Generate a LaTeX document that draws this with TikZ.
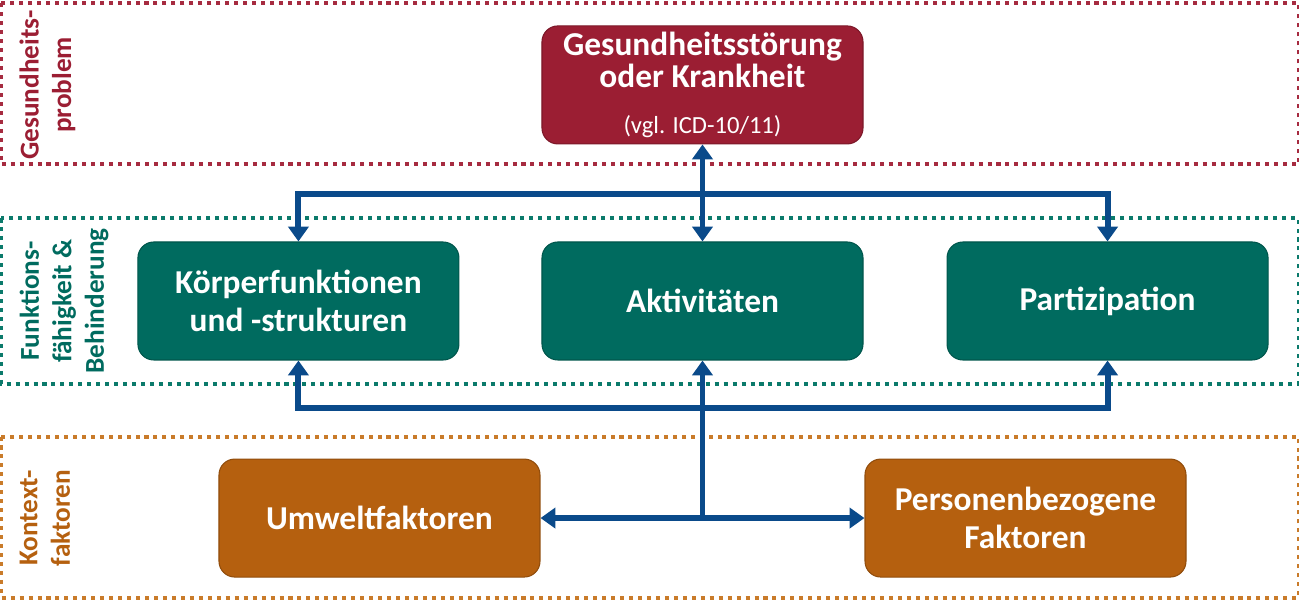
\documentclass[tikz,border=0pt]{standalone}
\usepackage{fontspec}
\setmainfont{Carlito}
\usepackage{tikz}
\usetikzlibrary{arrows.meta,positioning,calc}
\usepackage{xcolor}
\definecolor{icfred}{HTML}{9B1E33}
\definecolor{icfredline}{HTML}{A62B40}
\definecolor{icfgreen}{HTML}{006B5F}
\definecolor{icfgreenline}{HTML}{0B7A6B}
\definecolor{icforange}{HTML}{B5600F}
\definecolor{icforangeline}{HTML}{C97B2A}
\definecolor{icfblue}{HTML}{0A4A8A}

\begin{document}
\begin{tikzpicture}[
  box/.style={draw, rectangle, rounded corners=9pt,
              minimum width=6.42cm, minimum height=2.36cm,
              text=white, align=center, line width=0.6pt,
              font=\fontsize{19}{21.5}\selectfont\bfseries},
  frame/.style={line width=2.3pt, dash pattern=on 2.3pt off 2.8pt},
  sidelabel/.style={rotate=90, anchor=north, align=center,
                    font=\fontsize{15.5}{18.5}\selectfont\bfseries},
  arr/.style={-{Triangle[length=8.5pt,width=11.5pt]}, icfblue,
              line width=3.4pt},
  dblarr/.style={{Triangle[length=8.5pt,width=11.5pt]}-{Triangle[length=8.5pt,width=11.5pt]},
                 icfblue, line width=3.4pt},
]
  \useasboundingbox (-14.05,-6.0) rectangle (11.93,6.02);

  %% Middle row: functioning and disability
  \node[box, fill=icfgreen, draw=icfgreen!80!black] (akt) at (0,0) {Aktivitäten};
  \node[box, fill=icfgreen, draw=icfgreen!80!black, left=1.64cm of akt] (koerper)
    {Körperfunktionen\\und -strukturen};
  \node[box, fill=icfgreen, draw=icfgreen!80!black, right=1.66cm of akt] (part)
    {Partizipation};

  %% Health condition on top
  \node[box, fill=icfred, draw=icfred!80!black, inner sep=2pt,
        font=\fontsize{19}{18.7}\selectfont\bfseries, above=1.94cm of akt] (ges)
    {Gesundheitsstörung\\oder Krankheit\\[7.5pt]
     {\fontsize{14}{17}\selectfont\mdseries (vgl. ICD-10/11)}};

  %% Contextual factors below
  \node[box, fill=icforange, draw=icforange!80!black,
        below=1.96cm of akt, xshift=-6.46cm] (umwelt) {Umweltfaktoren};
  \node[box, fill=icforange, draw=icforange!80!black,
        below=1.96cm of akt, xshift=6.46cm] (pers) {Personenbezogene\\Faktoren};

  %% Dotted frames across the full width
  \coordinate (fl) at ($(koerper.west)+(-2.72,0)$);
  \coordinate (fr) at ($(part.east)+(0.6,0)$);
  \draw[frame, icfredline] ([yshift=0.44cm]ges.north -| fl)
    rectangle ([yshift=-0.4cm]ges.south -| fr);
  \draw[frame, icfgreenline] ([yshift=0.46cm]akt.north -| fl)
    rectangle ([yshift=-0.46cm]akt.south -| fr);
  \draw[frame, icforangeline] ([yshift=0.44cm]umwelt.north -| fl)
    rectangle ([yshift=-0.4cm]umwelt.south -| fr);

  %% Row labels
  \node[sidelabel, icfred] (lges) at ([xshift=0.24cm]fl |- ges)
    {Gesundheits-\\problem};
  \node[sidelabel, icfgreen] (lfkt) at ([xshift=0.24cm]fl |- akt)
    {Funktions-\\fähigkeit \&\\Behinderung};
  \node[sidelabel, icforange] (lkon) at ([xshift=0.24cm]fl |- umwelt)
    {Kontext-\\faktoren};

  %% Connectors
  \coordinate (bustop) at ($(akt.north)+(0,0.94)$);
  \coordinate (busbot) at ($(akt.south)+(0,-0.94)$);
  \coordinate (ctx) at (umwelt.east -| akt.south);

  \draw[dblarr] (ges.south) -- (akt.north);
  \draw[arr] (bustop) -| (koerper.north);
  \draw[arr] (bustop) -| (part.north);
  \draw[arr] (busbot) -| (koerper.south);
  \draw[arr] (busbot) -| (part.south);
  \draw[arr] (ctx) -- (akt.south);
  \draw[dblarr] (umwelt.east) -- (pers.west);
\end{tikzpicture}
\end{document}
